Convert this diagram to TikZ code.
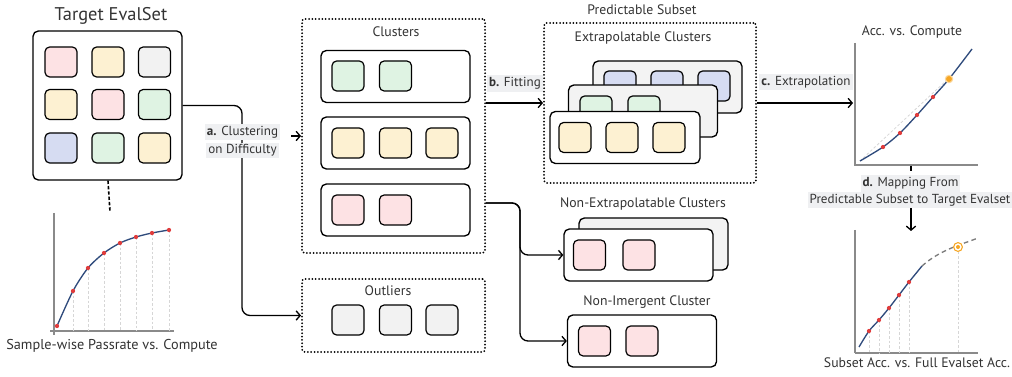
\documentclass[tikz,border=0pt]{standalone}
\usepackage{fontspec}
\setmainfont{PT Sans}
\usetikzlibrary{arrows.meta}

\definecolor{txt}{HTML}{333333}
\definecolor{cpink}{HTML}{FDE2E4}
\definecolor{cyellow}{HTML}{FDF1D2}
\definecolor{cgray}{HTML}{F2F2F2}
\definecolor{cgreen}{HTML}{DFF3E3}
\definecolor{cblue}{HTML}{D6DCF2}
\definecolor{cardgray}{HTML}{F3F3F3}
\definecolor{lblbg}{HTML}{EFF0F2}
\definecolor{navy}{HTML}{2F4B7C}
\definecolor{ptred}{HTML}{E03C3C}
\definecolor{orng}{HTML}{F6A623}
\definecolor{axisgray}{HTML}{8A8A8A}
\definecolor{gridgray}{HTML}{D6D6D6}

\begin{document}
\begin{tikzpicture}[x=0.75pt,y=-0.75pt,
  sq/.style={draw, line width=0.9pt, rounded corners=3.5pt, minimum width=24pt, minimum height=22.5pt, inner sep=0pt},
  card/.style={draw, line width=1pt, rounded corners=4pt, minimum width=111.75pt, minimum height=39pt, inner sep=0pt, fill=white},
  dotbox/.style={draw, line width=1.5pt, line cap=round, dash pattern=on 0pt off 2.5pt, rounded corners=2pt, inner sep=0pt},
  ttl/.style={text=txt, font=\fontsize{10.3pt}{12pt}\selectfont, inner sep=0pt},
  captext/.style={text=txt, font=\fontsize{10.3pt}{12pt}\selectfont, inner sep=0pt},
  lbl/.style={fill=lblbg, text=txt, font=\fontsize{9.8pt}{12pt}\selectfont, inner sep=1.5pt},
  conn/.style={line width=1pt},
  arr/.style={line width=1pt, -{Straight Barb[length=3pt,width=7pt]}},
  axis/.style={draw=axisgray, line width=0.8pt},
  grid/.style={draw=gridgray, line width=0.5pt, dash pattern=on 2pt off 1.5pt},
  curve/.style={draw=navy, line width=1pt},
  dot/.style={fill=ptred}
]
\useasboundingbox (0,0) rectangle (1012,377);

% ---------- Target EvalSet ----------
\node[text=txt, font=\fontsize{13.8pt}{16pt}\selectfont, inner sep=0pt] (ttarget) at (111,16) {Target EvalSet};
\node[draw, line width=1pt, rounded corners=4pt, minimum width=111.75pt, minimum height=111.75pt, inner sep=0pt] (ts) at (107.5,105.5) {};
\node[sq, fill=cpink]   (t11) at (61,62) {};
\node[sq, fill=cyellow] (t12) at (108,62) {};
\node[sq, fill=cgray]   (t13) at (154.5,62) {};
\node[sq, fill=cyellow] (t21) at (61,104.5) {};
\node[sq, fill=cpink]   (t22) at (108,104.5) {};
\node[sq, fill=cgreen]  (t23) at (154.5,104.5) {};
\node[sq, fill=cblue]   (t31) at (61,148) {};
\node[sq, fill=cgreen]  (t32) at (108,148) {};
\node[sq, fill=cyellow] (t33) at (154.5,148) {};

% sample-wise curve
\coordinate (c1top) at (110,212);
\draw[line width=1.2pt, dash pattern=on 2.5pt off 1.5pt] (ts.south -| t32) -- (c1top);
\draw[axis] (54,213) -- (54,335);
\draw[axis] (50,331) -- (174,331);
\foreach \x/\y in {73/291,88/268,104/253,120/243,136/237,152/233,169/230}
  \draw[grid] (\x,\y) -- (\x,331);
\draw[curve] plot[smooth] coordinates {(57,326)(73,291)(88,268)(104,253)(120,243)(136,237)(152,233)(169,230)};
\foreach \x/\y in {57/326,73/291,88/268,104/253,120/243,136/237,152/233,169/230}
  \fill[dot] (\x,\y) circle (1.6pt);
\node[captext, font=\fontsize{10.7pt}{13pt}\selectfont] (cap1) at (112,346) {Sample-wise Passrate vs. Compute};

% ---------- Clusters ----------
\node[dotbox, minimum width=137.25pt, minimum height=175.5pt] (clus) at (393.5,136) {};
\node[ttl] (tclus) at (396,32) {Clusters};
\node[card] (r1) at (395.5,76.5) {};
\node[card] (r2) at (395.5,143) {};
\node[card] (r3) at (395.5,210) {};
\node[sq, fill=cgreen]  (r1a) at (348,76) {};
\node[sq, fill=cgreen]  (r1b) at (395.5,76) {};
\node[sq, fill=cyellow] (r2a) at (348,143) {};
\node[sq, fill=cyellow] (r2b) at (395.5,143) {};
\node[sq, fill=cyellow] (r2c) at (442,143) {};
\node[sq, fill=cpink]   (r3a) at (348,210) {};
\node[sq, fill=cpink]   (r3b) at (395.5,210) {};

% ---------- Outliers ----------
\node[dotbox, minimum width=137.25pt, minimum height=54.75pt] (outl) at (393.5,315.5) {};
\node[ttl] (toutl) at (388,291) {Outliers};
\node[sq, fill=cgray] (o1) at (348,320) {};
\node[sq, fill=cgray] (o2) at (395.5,320) {};
\node[sq, fill=cgray] (o3) at (442,320) {};

% ---------- step a ----------
\coordinate (abend) at (242,105.5);
\draw[arr, rounded corners=6pt] (ts.east) -- (abend) |- (outl.west);
\node[lbl] (la1) at (242.5,132) {\textbf{a.} Clustering};
\node[lbl] (la2) at (242.5,150.5) {on Difficulty};
\draw[arr] ([xshift=8pt]la1.south east |- clus.west) -- (clus.west);

% ---------- Predictable Subset ----------
\node[ttl] (tpred) at (642,10) {Predictable Subset};
\node[dotbox, minimum width=159pt, minimum height=120pt] (pred) at (650,103) {};
\node[ttl] (textra) at (643,38) {Extrapolatable Clusters};
\node[card, fill=cardgray] (e3) at (667.5,87) {};
\node[sq, fill=cblue] (e3a) at (620,86) {};
\node[sq, fill=cblue] (e3b) at (667,86) {};
\node[sq, fill=cblue] (e3c) at (714,86) {};
\node[card, fill=cardgray] (e2) at (643,111) {};
\node[sq, fill=cgreen] (e2a) at (596,111) {};
\node[sq, fill=cgreen] (e2b) at (644,111) {};
\node[card, minimum width=112.5pt] (e1) at (625,137.5) {};
\node[sq, fill=cyellow] (e1a) at (575,137.5) {};
\node[sq, fill=cyellow] (e1b) at (622,137.5) {};
\node[sq, fill=cyellow] (e1c) at (669,137.5) {};

% ---------- step b ----------
\draw[arr] (clus.east |- pred.west) -- (pred.west);
\node[lbl] (lb) at (515,83.5) {\textbf{b.} Fitting};

% ---------- Non-extrapolatable / non-emergent ----------
\node[ttl] (tnex) at (643,204) {Non-Extrapolatable Clusters};
\node[card, fill=cardgray] (nx2) at (653.5,244) {};
\node[card] (nx1) at (638.5,255) {};
\node[sq, fill=cpink] (nx1a) at (589.5,255) {};
\node[sq, fill=cpink] (nx1b) at (639,255) {};

\node[ttl] (tnim) at (647,302) {Non-Imergent Cluster};
\node[card] (nim) at (642,341) {};
\node[sq, fill=cpink] (nima) at (594.5,341) {};
\node[sq, fill=cpink] (nimb) at (642,341) {};

\coordinate (pstart) at (clus.east |- 0,203);
\coordinate (pbend) at (520,203);
\draw[arr, rounded corners=6pt] (pstart) -- (pbend) |- (nx1.west);
\draw[arr, rounded corners=6pt] (pstart) -- (pbend) |- (nim.west);

% ---------- Acc. vs. Compute ----------
\node[ttl] (tacc) at (912,32) {Acc. vs. Compute};
\coordinate (c2w) at (853,103);
\draw[arr] (pred.east) -- (c2w);
\node[lbl] (lc) at (806,82) {\textbf{c.} Extrapolation};
\draw[draw=gridgray, line width=0.6pt, dash pattern=on 2pt off 1.5pt] (860,161) -- (949,78);
\draw[axis] (855,43) -- (855,166);
\draw[axis] (855,165) -- (978,165);
\draw[curve] plot[smooth] coordinates {(860,161)(883,147)(900,133)(917,115)(933,97)(949,79)(972,49)};
\foreach \x/\y in {883/147,900/133,917/115,933/97}
  \fill[dot] (\x,\y) circle (1.6pt);
\fill[orng!45] (949,79) circle (3.2pt);
\fill[orng] (949,79) circle (2.2pt);

% ---------- step d ----------
\coordinate (c2s) at (911,166);
\coordinate (c3n) at (911,231);
\draw[conn] (c2s) -- (911,171);
\node[lbl] (ld1) at (910.5,183.5) {\textbf{d.} Mapping From};
\node[lbl] (ld2) at (910,200) {Predictable Subset to Target Evalset};
\draw[arr] (ld2.south -| c3n) -- (c3n);

% ---------- Subset vs. Full ----------
\draw[axis] (855,230) -- (855,353);
\draw[axis] (855,353) -- (978,353);
\foreach \x/\y in {869/331,879/320,889/308,899/295,909/282,958/247}
  \draw[grid] (\x,\y) -- (\x,353);
\draw[curve] plot[smooth] coordinates {(859,347)(869,331)(879,320)(889,308)(899,295)(909,282)(922,266)};
\draw[draw=axisgray!90!black, line width=1pt, dash pattern=on 3.5pt off 2.5pt] (922,266) .. controls (940,250) and (960,245) .. (978,238);
\foreach \x/\y in {869/331,879/320,889/308,899/295,909/282}
  \fill[dot] (\x,\y) circle (1.6pt);
\draw[orng, fill=white, line width=0.8pt] (958,247) circle (3.3pt);
\fill[orng] (958,247) circle (1.5pt);
\node[captext] (cap3) at (917,363) {Subset Acc. vs. Full Evalset Acc.};
\end{tikzpicture}
\end{document}
